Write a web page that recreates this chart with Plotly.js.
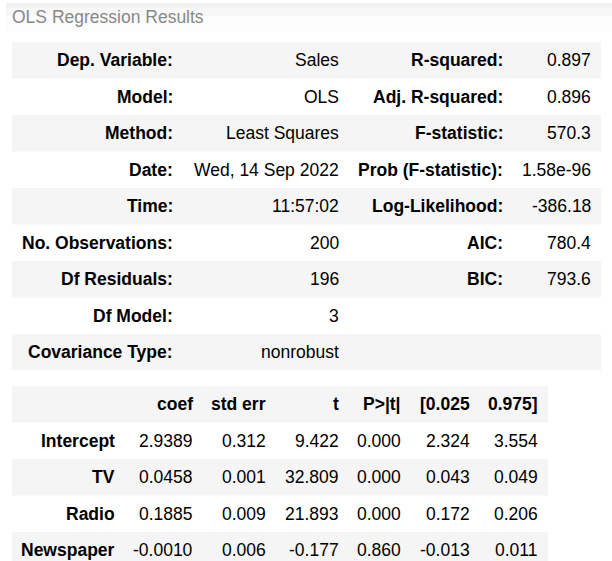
<!DOCTYPE html>
<html>
<head>
<meta charset="utf-8">
<script src="https://cdn.plot.ly/plotly-3.0.1.min.js"></script>
<style>html,body{margin:0;padding:0;background:#fff;}#chart{width:612px;height:561px;}</style>
</head>
<body>
<div id="chart"></div>
<script>
// ---- Model summary (top table) ----
var summaryLabelsLeft = ['Dep. Variable:', 'Model:', 'Method:', 'Date:', 'Time:', 'No. Observations:', 'Df Residuals:', 'Df Model:', 'Covariance Type:'];
var summaryValuesLeft = ['Sales', 'OLS', 'Least Squares', 'Wed, 14 Sep 2022', '11:57:02', '200', '196', '3', 'nonrobust'];
var summaryLabelsRight = ['R-squared:', 'Adj. R-squared:', 'F-statistic:', 'Prob (F-statistic):', 'Log-Likelihood:', 'AIC:', 'BIC:', '', ''];
var summaryValuesRight = ['0.897', '0.896', '570.3', '1.58e-96', '-386.18', '780.4', '793.6', '', ''];

// ---- Coefficient table ----
var coefHeaders = ['', 'coef', 'std err', 't', 'P>|t|', '[0.025', '0.975]'];
var terms = ['Intercept', 'TV', 'Radio', 'Newspaper'];
var coef = ['2.9389', '0.0458', '0.1885', '-0.0010'];
var stdErr = ['0.312', '0.001', '0.009', '0.006'];
var tStat = ['9.422', '32.809', '21.893', '-0.177'];
var pValue = ['0.000', '0.000', '0.000', '0.860'];
var ciLower = ['2.324', '0.043', '0.172', '-0.013'];
var ciUpper = ['3.554', '0.049', '0.206', '0.011'];

var W = 612, H = 561;
var GRAY = '#f5f5f5';
var FONT = 'Arial, "Liberation Sans", sans-serif';
var FS = 17.5;
var ROWH = 36.5;

var shapes = [];
var annotations = [];

function addRowFill(x0, x1, top) {
  shapes.push({ type: 'rect', xref: 'x', yref: 'y', x0: x0, x1: x1, y0: top, y1: top + ROWH,
    fillcolor: GRAY, line: { width: 0 }, layer: 'below' });
}
function addCell(text, xRight, yCenter, isBold) {
  if (!text) return;
  annotations.push({
    xref: 'x', yref: 'y', x: xRight, y: yCenter,
    xanchor: 'right', yanchor: 'middle',
    text: isBold ? '<b>' + text + '</b>' : text,
    showarrow: false, borderpad: 0, borderwidth: 0,
    font: { family: FONT, size: FS, color: '#000' }
  });
}
function buildTable(columns, boldCols, colRights, left, right, top, grayFirst) {
  var n = columns[0].length;
  for (var i = 0; i < n; i++) {
    var rowTop = top + i * ROWH;
    if ((i % 2 === 0) === grayFirst) addRowFill(left, right, rowTop);
    for (var c = 0; c < columns.length; c++) {
      addCell(columns[c][i], colRights[c], rowTop + ROWH / 2, boldCols[c]);
    }
  }
}

// top summary table
buildTable(
  [summaryLabelsLeft, summaryValuesLeft, summaryLabelsRight, summaryValuesRight],
  [true, false, true, false],
  [173, 339, 503, 591],
  12, 601, 42, true
);

// coefficient table: header row + term rows
var coefCols = [[coefHeaders[0]].concat(terms), [coefHeaders[1]].concat(coef), [coefHeaders[2]].concat(stdErr),
  [coefHeaders[3]].concat(tStat), [coefHeaders[4]].concat(pValue), [coefHeaders[5]].concat(ciLower), [coefHeaders[6]].concat(ciUpper)];
var coefRights = [115, 193, 266, 339, 401, 470, 538];
// header (bold) row
var hdrTop = 386;
addRowFill(12, 548, hdrTop);
for (var c = 0; c < coefCols.length; c++) addCell(coefCols[c][0], coefRights[c], hdrTop + ROWH / 2, true);
buildTable(
  coefCols.map(function (col) { return col.slice(1); }),
  [true, false, false, false, false, false, false],
  coefRights, 12, 548, hdrTop + ROWH, false
);

// faint shading band behind the title
shapes.push({ type: 'rect', xref: 'x', yref: 'y', x0: 6, x1: W, y0: 3, y1: 32, fillcolor: 'rgba(0,0,0,0.012)', line: { width: 0 }, layer: 'below' });
shapes.push({ type: 'rect', xref: 'x', yref: 'y', x0: 6, x1: W, y0: 3, y1: 16, fillcolor: 'rgba(0,0,0,0.02)', line: { width: 0 }, layer: 'below' });
shapes.push({ type: 'rect', xref: 'x', yref: 'y', x0: 6, x1: W, y0: 3, y1: 8, fillcolor: 'rgba(0,0,0,0.025)', line: { width: 0 }, layer: 'below' });

var layout = {
  width: W, height: H,
  margin: { l: 0, r: 0, t: 0, b: 0 },
  paper_bgcolor: '#ffffff',
  plot_bgcolor: '#ffffff',
  showlegend: false,
  xaxis: { range: [0, W], visible: false, fixedrange: true },
  yaxis: { range: [H, 0], visible: false, fixedrange: true },
  title: {
    text: 'OLS Regression Results',
    x: 12 / W, xanchor: 'left', xref: 'paper',
    y: 1 - 17 / H, yanchor: 'middle', yref: 'container',
    font: { family: FONT, size: FS, color: '#888888' }
  },
  shapes: shapes,
  annotations: annotations
};

Plotly.newPlot('chart', [], layout, { displayModeBar: false, staticPlot: true });
</script>
</body>
</html>
